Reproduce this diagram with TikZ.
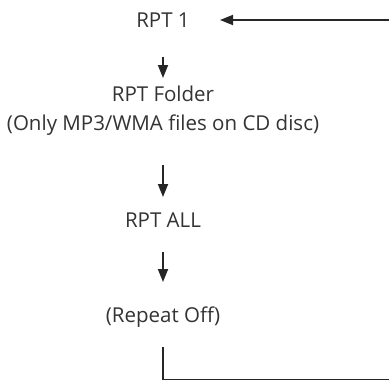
\documentclass[tikz,border=0pt]{standalone}
\usepackage{fontspec}
\setmainfont{Open Sans}
\usetikzlibrary{arrows.meta}
\begin{document}
\begin{tikzpicture}[x=1pt,y=-1pt,
  lbl/.style={font=\fontsize{20.5}{29}\selectfont, text=black!80, align=center, inner sep=0pt},
  flow/.style={line width=1.8pt, draw=black!85, -{Triangle[width=10pt,length=13pt]}},
  back/.style={line width=1.8pt, draw=black!85}]
\useasboundingbox (0,0) rectangle (389,380);
\node[lbl] (r1) at (163,20) {RPT 1};
\node[lbl] (rf) at (163,111) {RPT Folder\\(Only MP3/WMA files on CD disc)};
\node[lbl] (ra) at (163,220) {RPT ALL};
\node[lbl] (ro) at (163,317) {(Repeat Off)};
\coordinate (bl) at (163,379.8);
\coordinate (br) at (392,379.8);
\coordinate (tr) at (392,20);
\draw[flow, shorten <=37pt, shorten >=33pt] (r1.center) -- (rf.center);
\draw[flow, shorten <=54pt, shorten >=23pt] (rf.center) -- (ra.center);
\draw[flow, shorten <=32pt, shorten >=35pt] (ra.center) -- (ro.center);
\draw[back, shorten <=30pt] (ro.center) -- (bl) -- (br);
\draw[flow, shorten >=57pt] (tr) -- (r1.center);
\end{tikzpicture}
\end{document}
